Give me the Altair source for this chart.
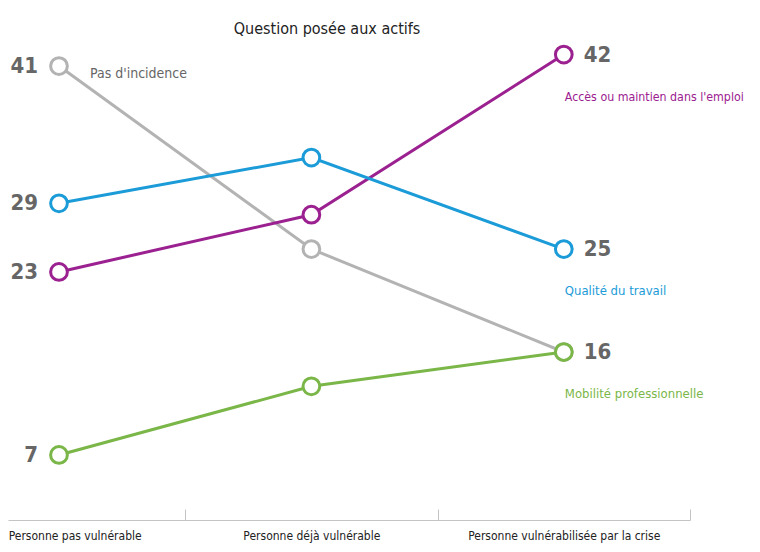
import altair as alt
import pandas as pd

FONT = "DejaVu Sans Condensed, Liberation Sans Narrow, sans-serif"

categories = ["Personne pas vulnérable", "Personne déjà vulnérable",
              "Personne vulnérabilisée par la crise"]
series_names = ["Pas d'incidence", "Qualité du travail",
                "Accès ou maintien dans l'emploi", "Mobilité professionnelle"]
pas_incidence = [41, 25, 16]
qualite_travail = [29, 33, 25]
acces_emploi = [23, 28, 42]
mobilite_pro = [7, 13, 16]
series_colors = ["#b3b3b3", "#1b9bd7", "#9b2090", "#7ab648"]
draw_order = ["Pas d'incidence", "Mobilité professionnelle",
              "Accès ou maintien dans l'emploi", "Qualité du travail"]
name_sizes = {"Qualité du travail": 13, "Accès ou maintien dans l'emploi": 12.3,
              "Mobilité professionnelle": 13}

values = dict(zip(series_names, [pas_incidence, qualite_travail, acces_emploi, mobilite_pro]))
color_of = dict(zip(series_names, series_colors))

rows = []
for s in series_names:
    for i, c in enumerate(categories):
        rows.append({"serie": s, "idx": i, "categorie": c, "valeur": values[s][i]})
df = pd.DataFrame(rows)

label_expr = "[" + ",".join("'" + c.replace("'", "\\'") + "'" for c in categories) + "][floor(datum.value)]"

x_enc = alt.X(
    "idx:Q",
    scale=alt.Scale(domain=[-0.202, 2.5], nice=False, zero=False),
    axis=alt.Axis(
        values=[0.5, 1.5, 2.5], title=None, grid=False,
        labelExpr=label_expr,
        labelOffset={"condition": {"test": "datum.value < 1", "value": -177}, "value": -126.25},
        labelAlign={"condition": {"test": "datum.value < 1", "value": "left"}, "value": "center"},
        labelFlush=False,
        labelOverlap=False, labelLimit=0, tickSize={"expr": "-11"}, labelPadding=21,
        domainColor="#c4c4c4", tickColor="#c4c4c4", domainWidth=1, tickWidth=1,
        labelFont=FONT, labelFontSize=12, labelColor="#222",
    ),
)
y_enc = alt.Y("valeur:Q", scale=alt.Scale(domain=[1.315, 42.75], nice=False, zero=False), axis=None)

layers = []
for s in draw_order:
    sub = df[df["serie"] == s]
    col = color_of[s]
    base = alt.Chart(sub).encode(x=x_enc, y=y_enc)
    layers.append(base.mark_line(color=col, strokeWidth=3))
    layers.append(base.mark_point(shape="circle", filled=False, fill="white", fillOpacity=1,
                                  stroke=col, strokeWidth=3, size=280, opacity=1))

# Left numbers (all series, first category)
left_df = df[df["idx"] == 0].copy()
left_df["txt"] = left_df["valeur"].astype(str)
layers.append(alt.Chart(left_df).mark_text(align="right", baseline="middle", dx=-21,
                                           font=FONT, fontSize=22, fontWeight="bold",
                                           color="#666").encode(x=x_enc, y=y_enc, text="txt:N"))

# Right numbers (last category, except "Pas d'incidence" which shares 16 with mobilité)
right_df = df[(df["idx"] == 2) & (df["serie"] != "Pas d'incidence")].copy()
right_df["txt"] = right_df["valeur"].astype(str)
layers.append(alt.Chart(right_df).mark_text(align="left", baseline="middle", dx=20,
                                            font=FONT, fontSize=22, fontWeight="bold",
                                            color="#666").encode(x=x_enc, y=y_enc, text="txt:N"))

# Series names
name_first = df[(df["idx"] == 0) & (df["serie"] == "Pas d'incidence")]
layers.append(alt.Chart(name_first).mark_text(align="left", baseline="middle", dx=31, dy=8,
                                              font=FONT, fontSize=14,
                                              color="#666").encode(
    x=x_enc, y=y_enc, text="serie:N"))
for s in ["Qualité du travail", "Accès ou maintien dans l'emploi", "Mobilité professionnelle"]:
    sub = df[(df["idx"] == 2) & (df["serie"] == s)]
    layers.append(alt.Chart(sub).mark_text(align="left", baseline="middle", dx=1, dy=42,
                                           font=FONT, fontSize=name_sizes[s],
                                           color=color_of[s]).encode(
        x=x_enc, y=y_enc, text="serie:N"))

chart = alt.layer(*layers).properties(
    width=682, height=474,
    autosize=alt.AutoSizeParams(type="none"),
    padding={"left": 0, "top": 38, "right": 62, "bottom": 24},
    title=alt.TitleParams("Question posée aux actifs", anchor="middle", dx=-22, fontSize=16,
                          font=FONT, fontWeight="normal", color="#222", offset=3),
).configure_view(strokeOpacity=0)

chart.save("out.html", embed_options={"renderer": "svg", "actions": False})
